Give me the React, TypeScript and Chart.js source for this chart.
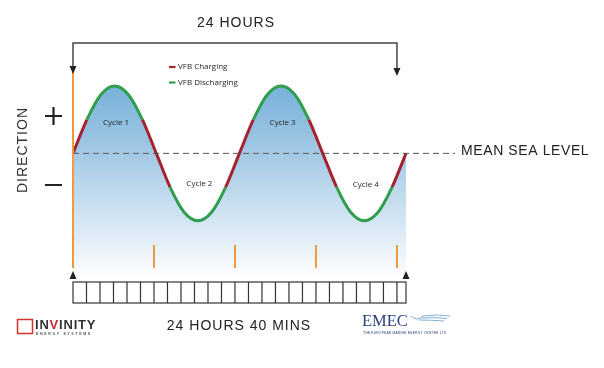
import React, { useEffect, useRef } from 'react';
import { Chart, registerables } from 'chart.js';

Chart.register(...registerables);

// Tide level (relative to mean sea level, amplitude 1) read at ~30° phase steps
const hours = [0, 1.03, 2.06, 3.08, 4.11, 5.14, 6.17, 7.19, 8.22, 9.25, 10.28, 11.31, 12.33,
  13.36, 14.39, 15.42, 16.44, 17.47, 18.5, 19.53, 20.56, 21.58, 22.61, 23.64, 24.67];
const level = [0, 0.5, 0.87, 1, 0.87, 0.5, 0, -0.5, -0.87, -1, -0.87, -0.5, 0,
  0.5, 0.87, 1, 0.87, 0.5, 0, -0.5, -0.87, -1, -0.87, -0.5, 0];

const seriesNames = ['VFB Charging', 'VFB Discharging'];
const cycleNames = ['Cycle 1', 'Cycle 2', 'Cycle 3', 'Cycle 4'];
const cycleHours = [3.08, 9.25, 15.42, 21.58];
const cycleLevels = [0.46, -0.45, 0.46, -0.46];
const markerHours = [6, 12, 18, 24];
const rulerHours = [0, 1, 2, 3, 4, 5, 6, 7, 8, 9, 10, 11, 12, 13, 14, 15, 16, 17, 18, 19, 20, 21, 22, 23, 24, 24.67];
const spanHours = [0, 24];
const spanLabel = '24 HOURS';
const rulerLabel = '24 HOURS 40 MINS';
const meanLabel = 'MEAN SEA LEVEL';
const axisLabel = 'DIRECTION';

const RED = '#a3232f';
const GREEN = '#2f9e4e';
const ORANGE = '#ef9a3c';
const SANS = '"Liberation Sans", Arial, sans-serif';
const SMALL = '"Open Sans", "Noto Sans", sans-serif';

const overlay = {
  id: 'overlay',
  afterDraw(chart: any) {
    const c: CanvasRenderingContext2D = chart.ctx;
    const xs = chart.scales.x;
    const ys = chart.scales.y;
    const X = (h: number) => xs.getPixelForValue(h);
    const Y = (v: number) => ys.getPixelForValue(v);
    const y0 = Y(0);
    const x0 = X(0);
    c.save();

    // mean sea level dashed line
    c.strokeStyle = '#555';
    c.lineWidth = 1;
    c.setLineDash([6, 4]);
    c.beginPath();
    c.moveTo(x0, y0);
    c.lineTo(x0 + 382, y0);
    c.stroke();
    c.setLineDash([]);

    c.fillStyle = '#222';
    c.font = `14px ${SANS}`;
    (c as any).letterSpacing = '0.6px';
    c.textAlign = 'left';
    c.textBaseline = 'alphabetic';
    c.fillText(meanLabel, x0 + 388, y0 + 2);

    // orange hour markers
    c.strokeStyle = ORANGE;
    c.lineWidth = 2;
    c.beginPath();
    c.moveTo(x0, 69);
    c.lineTo(x0, 268);
    c.stroke();
    markerHours.forEach((h) => {
      c.beginPath();
      c.moveTo(X(h), 245);
      c.lineTo(X(h), 268);
      c.stroke();
    });

    // top bracket
    const xl = X(spanHours[0]);
    const xr = X(spanHours[1]);
    c.strokeStyle = '#444';
    c.fillStyle = '#222';
    c.lineWidth = 1.5;
    c.beginPath();
    c.moveTo(xl, 66);
    c.lineTo(xl, 43);
    c.lineTo(xr, 43);
    c.lineTo(xr, 68);
    c.stroke();
    const down = (x: number, tip: number) => {
      c.beginPath();
      c.moveTo(x - 3.5, tip - 8);
      c.lineTo(x + 3.5, tip - 8);
      c.lineTo(x, tip);
      c.closePath();
      c.fill();
    };
    down(xl, 74);
    down(xr, 76);
    c.font = `14px ${SANS}`;
    (c as any).letterSpacing = '1px';
    c.textAlign = 'center';
    c.fillText(spanLabel, 236, 27);

    // bottom arrows
    const up = (x: number, tip: number) => {
      c.beginPath();
      c.moveTo(x - 3.5, tip + 8);
      c.lineTo(x + 3.5, tip + 8);
      c.lineTo(x, tip);
      c.closePath();
      c.fill();
    };
    up(X(rulerHours[0]), 271);
    up(X(rulerHours[rulerHours.length - 1]), 271);

    // ruler
    c.strokeStyle = '#333';
    c.lineWidth = 1.2;
    const rx0 = X(rulerHours[0]);
    const rx1 = X(rulerHours[rulerHours.length - 1]);
    c.strokeRect(rx0, 282, rx1 - rx0, 21);
    c.beginPath();
    rulerHours.slice(1, -1).forEach((h) => {
      c.moveTo(X(h), 282);
      c.lineTo(X(h), 303);
    });
    c.stroke();
    c.fillStyle = '#222';
    c.font = `14px ${SANS}`;
    (c as any).letterSpacing = '1px';
    c.textAlign = 'center';
    c.fillText(rulerLabel, 239, 330);

    // direction axis
    c.save();
    c.translate(27, 150);
    c.rotate(-Math.PI / 2);
    c.font = `14px ${SANS}`;
    (c as any).letterSpacing = '1px';
    c.fillStyle = '#333';
    c.textAlign = 'center';
    c.fillText(axisLabel, 0, 0);
    c.restore();
    c.strokeStyle = '#222';
    c.lineWidth = 2.2;
    c.beginPath();
    c.moveTo(45, 116);
    c.lineTo(62, 116);
    c.moveTo(53.5, 107);
    c.lineTo(53.5, 125);
    c.moveTo(45, 185);
    c.lineTo(62, 185);
    c.stroke();

    // legend
    (c as any).letterSpacing = '0px';
    c.lineWidth = 2.2;
    [RED, GREEN].forEach((col, i) => {
      const ly = 67 + i * 15.5;
      c.strokeStyle = col;
      c.beginPath();
      c.moveTo(169, ly);
      c.lineTo(175.5, ly);
      c.stroke();
      c.fillStyle = '#1e1e1e';
      c.font = `8px ${SMALL}`;
      c.textAlign = 'left';
      c.textBaseline = 'middle';
      c.fillText(seriesNames[i], 178, ly);
    });

    // cycle labels
    c.font = `8px ${SMALL}`;
    c.textAlign = 'center';
    c.textBaseline = 'middle';
    c.fillStyle = '#1e1e1e';
    cycleNames.forEach((n, i) => {
      c.fillText(n, X(cycleHours[i]) + 1.5, Y(cycleLevels[i]));
    });

    // Invinity logo
    c.strokeStyle = '#d0342c';
    c.lineWidth = 1.5;
    c.strokeRect(17.5, 319.5, 15, 14);
    c.textBaseline = 'alphabetic';
    c.textAlign = 'left';
    c.font = `bold 13px ${SANS}`;
    (c as any).letterSpacing = '0.8px';
    let lx = 35;
    'INVINITY'.split('').forEach((ch, i) => {
      c.fillStyle = i === 2 ? '#c8282d' : '#333';
      c.fillText(ch, lx, 329);
      lx += c.measureText(ch).width;
    });
    c.font = `bold 3.6px ${SANS}`;
    (c as any).letterSpacing = '1.6px';
    c.fillStyle = '#555';
    c.fillText('ENERGY SYSTEMS', 36, 334.5);

    // EMEC logo
    (c as any).letterSpacing = '0px';
    c.font = `16.5px "Liberation Serif", serif`;
    c.fillStyle = '#2b3f7e';
    c.fillText('EMEC', 362, 326);
    c.strokeStyle = '#7fb0d8';
    c.lineWidth = 1;
    c.beginPath();
    c.moveTo(411, 316);
    c.quadraticCurveTo(417, 322, 423, 316);
    c.quadraticCurveTo(436, 314, 450, 316);
    c.moveTo(421, 318);
    c.quadraticCurveTo(436, 317, 447, 318.5);
    c.moveTo(419, 320);
    c.quadraticCurveTo(432, 320, 444, 321);
    c.stroke();
    (c as any).letterSpacing = '0.2px';
    c.font = `3.3px ${SANS}`;
    c.fillStyle = '#2b3f7e';
    c.fillText('THE EUROPEAN MARINE ENERGY CENTRE LTD', 363, 333.5);

    c.restore();
  },
};

export default function App() {
  const ref = useRef<HTMLCanvasElement | null>(null);

  useEffect(() => {
    if (!ref.current) return;
    const points = hours.map((h, i) => ({ x: h, y: level[i] }));
    const chart = new Chart(ref.current, {
      type: 'line',
      data: {
        datasets: [
          {
            label: 'Tide',
            data: points,
            borderWidth: 3,
            borderColor: GREEN,
            pointRadius: 0,
            cubicInterpolationMode: 'monotone',
            fill: false,
            clip: false as any,
            order: 0,
            segment: {
              borderColor: (ctx: any) =>
                Math.max(Math.abs(ctx.p0.parsed.y), Math.abs(ctx.p1.parsed.y)) <= 0.5 ? RED : GREEN,
            },
          } as any,
          {
            label: 'Water',
            data: points,
            borderWidth: 0,
            borderColor: 'rgba(0,0,0,0)',
            pointRadius: 0,
            cubicInterpolationMode: 'monotone',
            fill: 'start',
            order: 1,
            backgroundColor: (ctx: any) => {
              const ch = ctx.chart;
              const area = ch.chartArea;
              if (!area) return 'rgba(140,190,225,0.8)';
              const g = ch.ctx.createLinearGradient(0, area.top, 0, area.bottom);
              g.addColorStop(0, '#78b1d9');
              g.addColorStop(0.35, '#a3c9e5');
              g.addColorStop(0.75, '#dae9f5');
              g.addColorStop(1, '#ffffff');
              return g;
            },
          } as any,
        ],
      },
      options: {
        responsive: false,
        devicePixelRatio: 1,
        animation: false,
        layout: { padding: { left: 73, right: 198, top: 86, bottom: 90 } },
        scales: {
          x: { type: 'linear', min: 0, max: 24.67, display: false },
          y: { type: 'linear', min: -1.85, max: 1, display: false },
        },
        plugins: {
          legend: { display: false },
          tooltip: { enabled: false },
        },
      },
      plugins: [overlay],
    });
    return () => chart.destroy();
  }, []);

  return (
    <div style={{ position: 'absolute', left: 0, top: 0, width: 604, height: 368, background: '#fff' }}>
      <canvas ref={ref} width={604} height={368} />
    </div>
  );
}
